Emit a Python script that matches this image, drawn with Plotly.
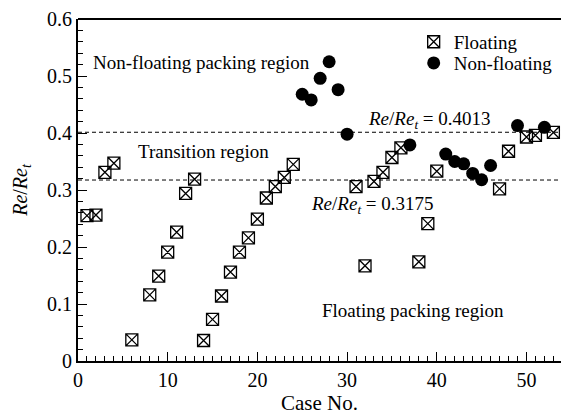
import plotly.graph_objects as go

# Floating cases
float_case = [1, 2, 3, 4, 6, 8, 9, 10, 11, 12, 13, 14, 15, 16, 17, 18, 19, 20, 21, 22, 23, 24,
              31, 32, 33, 34, 35, 36, 38, 39, 40, 47, 48, 50, 51, 53]
float_re = [0.255, 0.256, 0.331, 0.347, 0.037, 0.116, 0.149, 0.191, 0.226, 0.294, 0.319, 0.036,
            0.073, 0.114, 0.156, 0.191, 0.216, 0.249, 0.286, 0.306, 0.322, 0.345,
            0.306, 0.167, 0.315, 0.331, 0.357, 0.374, 0.174, 0.241, 0.333, 0.302, 0.368,
            0.393, 0.396, 0.401]

# Non-floating cases
nonfloat_case = [25, 26, 27, 28, 29, 30, 37, 41, 42, 43, 44, 45, 46, 49, 52]
nonfloat_re = [0.468, 0.458, 0.496, 0.525, 0.476, 0.398, 0.379, 0.363, 0.350, 0.346, 0.329,
               0.318, 0.343, 0.413, 0.410]

upper_limit = 0.4013
lower_limit = 0.3175

FONT = "Times New Roman, Liberation Serif, DejaVu Serif, serif"

fig = go.Figure()
fig.add_trace(go.Scatter(
    x=float_case, y=float_re, mode="markers", name="Floating", legend="legend",
    marker=dict(symbol="square-x-open", size=12, color="black", line=dict(width=1.3, color="black")),
))
fig.add_trace(go.Scatter(
    x=nonfloat_case, y=nonfloat_re, mode="markers", name="Non-floating", legend="legend2",
    marker=dict(symbol="circle", size=13, color="black"),
))

for v in (upper_limit, lower_limit):
    fig.add_shape(type="line", xref="x domain", yref="y", x0=0, x1=1, y0=v, y1=v,
                  line=dict(color="black", width=1, dash="4px,3px"))

ann_font = dict(family=FONT, size=19, color="black")
fig.add_annotation(x=13.75, y=0.523, text="Non-floating packing region", showarrow=False, font=ann_font)
fig.add_annotation(x=13.95, y=0.367, text="Transition region", showarrow=False, font=ann_font)
fig.add_annotation(x=37.35, y=0.089, text="Floating packing region", showarrow=False, font=ann_font)
fig.add_annotation(x=39.2, y=0.423, text="<i>Re</i>/<i>Re<sub>t</sub></i> = %.4f" % upper_limit,
                   showarrow=False, font=ann_font)
fig.add_annotation(x=32.85, y=0.274, text="<i>Re</i>/<i>Re<sub>t</sub></i> = %.4f" % lower_limit,
                   showarrow=False, font=ann_font)

axis_common = dict(
    showline=True, linecolor="black", linewidth=2, ticks="inside", tickcolor="black",
    tickwidth=1, ticklen=9, showgrid=False, zeroline=False,
    tickfont=dict(family=FONT, size=20, color="black"),
)
fig.update_xaxes(
    range=[0, 53.85], dtick=10, tick0=0, mirror=False,
    minor=dict(dtick=1, ticks="inside", ticklen=5, tickcolor="black", tickwidth=1),
    title=dict(text="Case No.", font=dict(family=FONT, size=21, color="black"), standoff=4),
    **axis_common,
)
fig.update_yaxes(
    range=[0, 0.6], dtick=0.1, tick0=0, tickformat="~g",
    minor=dict(dtick=0.02, ticks="inside", ticklen=5, tickcolor="black", tickwidth=1),
    title=dict(text="<i>Re</i>/<i>Re<sub>t</sub></i>", font=dict(family=FONT, size=20, color="black"),
               standoff=14),
    **axis_common,
)
fig.add_shape(type="line", xref="x domain", yref="y domain", x0=0, x1=1, y0=1, y1=1,
              line=dict(color="black", width=2))

legend_common = dict(xanchor="left", yanchor="middle", bgcolor="rgba(0,0,0,0)",
                     font=dict(family=FONT, size=19, color="black"), itemsizing="trace")
fig.update_layout(
    width=561, height=417,
    margin=dict(l=78, r=0, t=19, b=56),
    paper_bgcolor="white", plot_bgcolor="white",
    font=dict(family=FONT, size=19, color="black"),
    showlegend=True,
    legend=dict(x=0.695, y=0.933, **legend_common),
    legend2=dict(x=0.695, y=0.871, **legend_common),
)

fig.write_html("out.html")
